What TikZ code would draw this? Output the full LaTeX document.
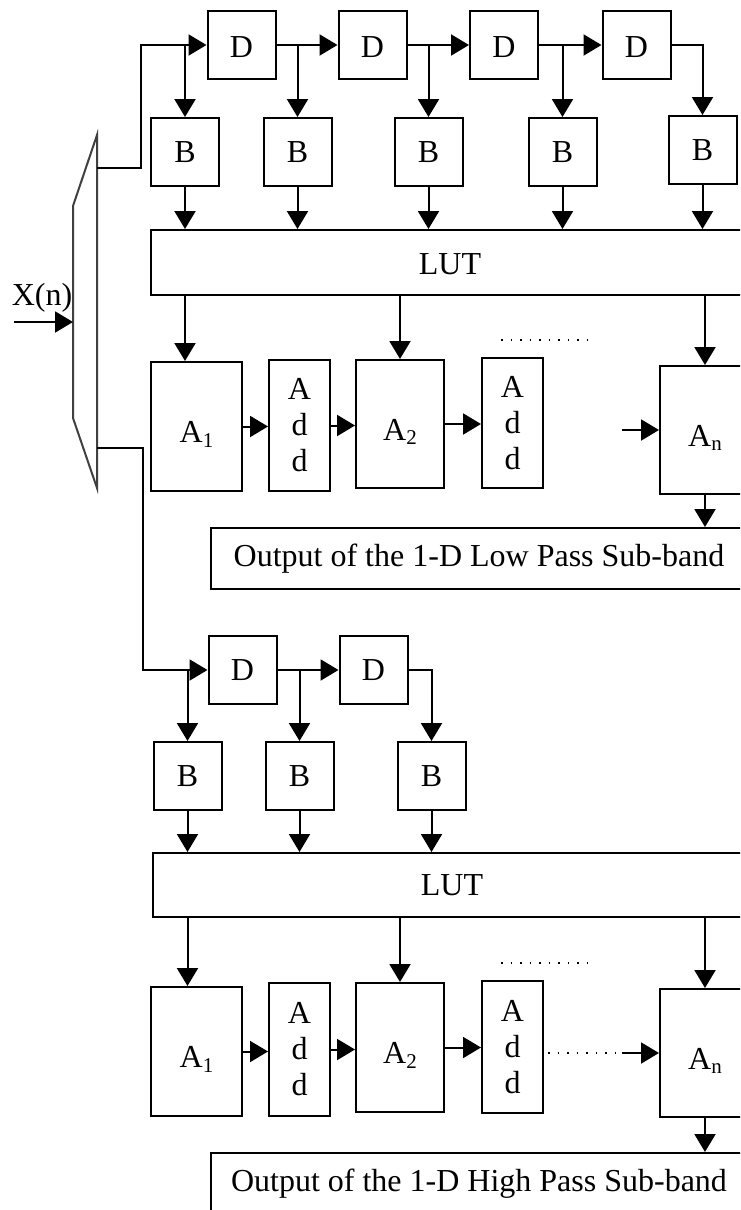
\documentclass[tikz,border=0pt]{standalone}
\usepackage{fontspec}
\setmainfont{Liberation Serif}
\usetikzlibrary{arrows.meta,calc}
\newcommand{\mysubs}[1]{\raisebox{-0.3ex}{\fontsize{21}{21}\selectfont #1}}
\newcommand{\lowtxt}[1]{\raisebox{-8pt}[\height][\depth]{#1}}
\begin{document}
\begin{tikzpicture}[x=1pt,y=-1pt,
  line width=2pt,
  box/.style={draw,line width=2pt,inner sep=0pt,font=\fontsize{32}{36}\selectfont,align=center},
  sq/.style={box,minimum width=68pt,minimum height=68pt},
  arr/.style={-{Triangle[length=18pt,width=21pt]}},
  dots/.style={line width=1.8pt,dash pattern=on 1.8pt off 7.7pt}
]
\useasboundingbox (0,0) rectangle (740,1210);
\clip (0,0) rectangle (740,1210);

% ---------- demultiplexer and input ----------
\draw[line width=2pt,draw=black!75] (73,206) -- (97,135) -- (97,488) -- (73,418) -- cycle;
\coordinate (xin) at (14,322);
\coordinate (mx) at (73,322);
\node[font=\fontsize{32}{36}\selectfont,anchor=base,inner sep=0pt] (xlab) at (42,305) {X(n)};
\draw[arr] (xin) -- (mx);
\coordinate (m1) at (97,168);
\coordinate (c1) at (141,168);
\coordinate (m2) at (97,448);
\coordinate (c2) at (143,448);

% ---------- upper section ----------
\node[sq] (D1) at (241.5,45) {\raisebox{-2pt}[\height][\depth]{D}};
\node[sq] (D2) at (372.5,45) {\raisebox{-2pt}[\height][\depth]{D}};
\node[sq] (D3) at (504,45) {\raisebox{-2pt}[\height][\depth]{D}};
\node[sq] (D4) at (636.5,45) {\raisebox{-2pt}[\height][\depth]{D}};
\node[sq] (B1) at (185,152) {B};
\node[sq] (B2) at (297.5,152) {B};
\node[sq] (B3) at (428.5,152) {B};
\node[sq] (B4) at (562.5,152) {B};
\node[sq] (B5) at (702.5,150) {B};
\node[box,minimum width=598pt,minimum height=65pt] (LUT1) at (450,262.5) {\raisebox{-2pt}[\height][\depth]{LUT}};
\node[box,minimum width=91pt,minimum height=129pt] (A1) at (196.5,426.5) {\lowtxt{A\mysubs{1}}};
\node[box,minimum width=61pt,minimum height=131pt] (Ad1) at (299.5,425.5) {A\\d\\d};
\node[box,minimum width=88pt,minimum height=128pt] (A2) at (400,424) {\lowtxt{A\mysubs{2}}};
\node[box,minimum width=61pt,minimum height=130pt] (Ad2) at (512.5,423) {A\\d\\d};
\node[box,minimum width=90pt,minimum height=128pt] (An) at (705,430) {\lowtxt{A\mysubs{n}}};
\node[box,minimum width=536pt,minimum height=61pt] (O1) at (479,558.5) {Output of the 1-D Low Pass Sub-band};

\draw[arr] (m1) -- (c1) |- (D1.west);
\draw[arr] (D1.east) -- (D2.west);
\draw[arr] (D2.east) -- (D3.west);
\draw[arr] (D3.east) -- (D4.west);
\draw[arr] (D4.east) -| (B5.north);
\draw[arr] (B1 |- D1.west) -- (B1.north);
\draw[arr] (B2 |- D1.east) -- (B2.north);
\draw[arr] (B3 |- D2.east) -- (B3.north);
\draw[arr] (B4 |- D3.east) -- (B4.north);
\foreach \b in {B1,B2,B3,B4,B5} \draw[arr] (\b.south) -- (\b.south |- LUT1.north);
\draw[arr] (B1 |- LUT1.south) -- (B1 |- A1.north);
\draw[arr] (A2 |- LUT1.south) -- (A2.north);
\draw[arr] (An |- LUT1.south) -- (An.north);
\draw[arr] (A1.east) -- (A1.east -| Ad1.west);
\draw[arr] (Ad1.east) -- (Ad1.east -| A2.west);
\draw[arr] (A2.east) -- (A2.east -| Ad2.west);
\coordinate (s1) at (622,430);
\draw[arr] (s1) -- (An.west);
\coordinate (dl1) at (501,340);
\coordinate (dr1) at (589,340);
\draw[dots] (dl1) -- (dr1);
\draw[arr] (An.south) -- (An.south |- O1.north);

% ---------- lower section ----------
\node[sq] (E1) at (242.5,670) {D};
\node[sq] (E2) at (373.5,670) {D};
\node[sq] (C1) at (187.5,776) {B};
\node[sq] (C2) at (299.5,776) {B};
\node[sq] (C3) at (431.5,776) {B};
\node[box,minimum width=598pt,minimum height=64pt] (LUT2) at (452,885) {LUT};
\node[box,minimum width=91pt,minimum height=129pt] (G1) at (196.5,1051.5) {\lowtxt{A\mysubs{1}}};
\node[box,minimum width=61pt,minimum height=133pt] (Bd1) at (299.5,1049.5) {A\\d\\d};
\node[box,minimum width=88pt,minimum height=129pt] (G2) at (400,1047.5) {\lowtxt{A\mysubs{2}}};
\node[box,minimum width=61pt,minimum height=132pt] (Bd2) at (512.5,1047) {A\\d\\d};
\node[box,minimum width=90pt,minimum height=128pt] (Gn) at (705,1053) {\lowtxt{A\mysubs{n}}};
\node[box,minimum width=536pt,minimum height=61pt] (O2) at (479,1183.5) {Output of the 1-D High Pass Sub-band};

\draw[arr] (m2) -- (c2) |- (E1.west);
\draw[arr] (E1.east) -- (E2.west);
\draw[arr] (E2.east) -| (C3.north);
\draw[arr] (C1 |- E1.west) -- (C1.north);
\draw[arr] (C2 |- E1.east) -- (C2.north);
\foreach \b in {C1,C2,C3} \draw[arr] (\b.south) -- (\b.south |- LUT2.north);
\draw[arr] (C1 |- LUT2.south) -- (C1 |- G1.north);
\draw[arr] (G2 |- LUT2.south) -- (G2.north);
\draw[arr] (Gn |- LUT2.south) -- (Gn.north);
\draw[arr] (G1.east) -- (G1.east -| Bd1.west);
\draw[arr] (Bd1.east) -- (Bd1.east -| G2.west);
\draw[arr] (G2.east) -- (G2.east -| Bd2.west);
\coordinate (s2) at (622,1053);
\coordinate (s2l) at (548,1053);
\draw[dots] (s2l) -- (s2);
\draw[arr] (s2) -- (Gn.west);
\coordinate (dl2) at (501,963);
\coordinate (dr2) at (589,963);
\draw[dots] (dl2) -- (dr2);
\draw[arr] (Gn.south) -- (Gn.south |- O2.north);
\end{tikzpicture}
\end{document}
